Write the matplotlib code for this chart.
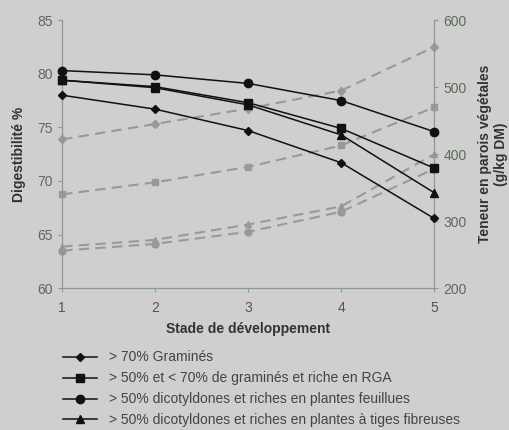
import matplotlib
matplotlib.use("Agg")
import matplotlib.pyplot as plt

plt.rcParams['font.family'] = ['Liberation Sans', 'DejaVu Sans']

stades = [1, 2, 3, 4, 5]

# digestibilite (%) - axe gauche
dig_graminees = [78.0, 76.7, 74.7, 71.7, 66.5]
dig_rga = [79.4, 78.8, 77.3, 74.9, 71.2]
dig_feuillues = [80.3, 79.9, 79.1, 77.5, 74.6]
dig_fibreuses = [79.4, 78.7, 77.1, 74.3, 68.9]

# teneur en parois (g/kg DM) - axe droit
par_graminees = [422, 445, 468, 495, 560]
par_rga = [340, 358, 381, 413, 470]
par_feuillues = [256, 266, 284, 314, 378]
par_fibreuses = [262, 272, 295, 322, 400]

labels = ["> 70% Graminés",
          "> 50% et < 70% de graminés et riche en RGA",
          "> 50% dicotyldones et riches en plantes feuillues",
          "> 50% dicotyldones et riches en plantes à tiges fibreuses"]

bg = '#cfcfcf'
fig = plt.figure(figsize=(5.09, 4.30), dpi=100, facecolor=bg)
ax = fig.add_axes([0.122, 0.330, 0.731, 0.623])
ax2 = ax.twinx()

# fond vert sur l'axe du dessous, courbes pleines au-dessus
ax.set_zorder(ax2.get_zorder() + 1)
ax.patch.set_visible(False)
ax2.patch.set_facecolor('#e2f8e0')

dgray = '#999999'
for vals, m, ms in [(par_graminees, 'D', 4), (par_rga, 's', 5),
                    (par_feuillues, 'o', 5), (par_fibreuses, '^', 5)]:
    ax2.plot(stades, vals, color=dgray, ls=(0, (5, 3)), lw=1.5,
             marker=m, ms=ms, mec=dgray, mfc=dgray, clip_on=False)

handles = []
for vals, m, ms in [(dig_graminees, 'D', 4), (dig_rga, 's', 6),
                    (dig_feuillues, 'o', 6), (dig_fibreuses, '^', 6)]:
    h, = ax.plot(stades, vals, color='#111111', lw=1.1, marker=m, ms=ms,
                 clip_on=False, zorder=5)
    handles.append(h)

ax.set_xlim(1, 5)
ax.set_ylim(60, 85)
ax.set_yticks([60, 65, 70, 75, 80, 85])
ax.set_xticks(stades)
ax2.set_ylim(200, 600)
ax2.set_yticks([200, 300, 400, 500, 600])

tcol = '#5a6a5a'
spc = '#8a9a8a'
for a in (ax, ax2):
    a.spines['top'].set_visible(False)
    for s in ('left', 'right', 'bottom'):
        a.spines[s].set_color(spc)
    a.tick_params(colors=spc, labelcolor=tcol, labelsize=10, length=3)
ax.tick_params(axis='x', labelcolor='#555555', pad=6)

ax.set_xlabel("Stade de développement", fontsize=10, fontweight='bold',
              color='#333333', labelpad=5)
ax.set_ylabel("Digestibilité %", fontsize=10, fontweight='bold',
              color='#333333', labelpad=8)
ax2.set_ylabel("Teneur en parois végétales\n(g/kg DM)", fontsize=10,
               fontweight='bold', color='#333333', labelpad=8)

fig.legend(handles, labels, loc='upper left', bbox_to_anchor=(0.1, 0.214),
           frameon=False, fontsize=10, handlelength=2.4, labelspacing=0.5,
           handletextpad=0.9, labelcolor='#444444')

fig.savefig("out.png", dpi=100, facecolor=bg)
